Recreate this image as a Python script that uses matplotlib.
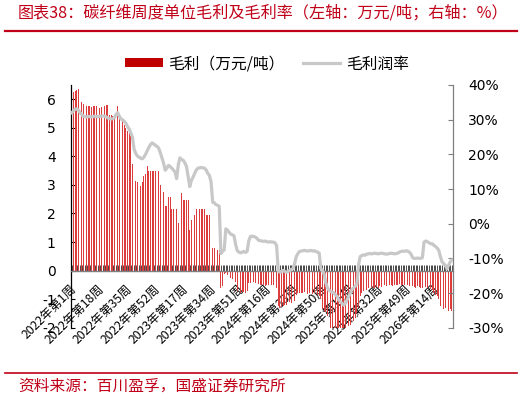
import matplotlib
matplotlib.use("Agg")
import matplotlib.pyplot as plt
from matplotlib.patches import Patch
from matplotlib.lines import Line2D
from matplotlib.transforms import ScaledTranslation

plt.rcParams['font.family'] = ['DejaVu Sans', 'Noto Sans CJK SC']
CJK = ['Noto Sans CJK SC', 'DejaVu Sans']

# ---------------- data ----------------
years = [2022, 2023, 2024, 2025, 2026]
weeks_in_year = [52, 52, 52, 52, 25]
categories = [f"{y}年第{w}周" for y, n in zip(years, weeks_in_year) for w in range(1, n + 1)]
label_step = 17

# 毛利（万元/吨）
gross_profit = [
    6.25, 6.25, 6.28, 6.33, 6.35, 6.33, 5.90, 5.85, 5.80, 5.78,
    5.75, 5.75, 5.72, 5.75, 5.75, 5.75, 5.70, 5.70, 5.72, 5.75,
    5.75, 5.80, 5.80, 5.44, 5.44, 5.42, 5.44, 5.75, 5.75, 5.44,
    5.44, 5.26, 5.10, 5.00, 4.90, 4.85, 4.70, 3.75, 3.20, 3.15,
    3.10, 3.00, 2.95, 3.10, 3.30, 3.40, 3.65, 3.50, 3.50, 3.50,
    3.50, 3.50, 3.50, 3.50, 3.00, 2.78, 2.76, 2.26, 2.25, 2.58,
    2.58, 2.14, 2.14, 2.14, 2.14, 1.67, 2.73, 2.73, 2.47, 2.47,
    2.47, 2.47, 1.42, 1.77, 1.94, 1.94, 2.14, 2.14, 2.14, 2.14,
    2.14, 2.14, 1.94, 1.94, 1.94, 0.78, 0.78, 0.78, 0.78, 0.72,
    0.72,
    -0.60, -0.55,
    -0.12, -0.10, -0.15, -0.20,
    -0.25, -0.30, -0.35, -0.40,
    -0.72, -0.78, -0.80, -0.76, -0.75, -0.78, -0.70,
    -0.45, -0.42, -0.45, -0.40, -0.42, -0.45,
    -0.48, -0.50, -0.52, -0.50, -0.55, -0.50, -0.52, -0.55, -0.50, -0.52, -0.55, -0.60,
    -1.25, -1.30, -1.28, -1.25, -1.20, -1.22, -1.15, -1.10, -1.12, -1.10, -1.05,
    -0.85, -0.80, -0.78, -0.80, -0.78, -0.76, -0.80, -0.82, -0.78, -0.80, -0.82, -0.80,
    -0.78, -0.85, -0.90, -1.00,
    -1.35, -1.40, -1.45, -1.60,
    -1.95, -2.00, -2.00, -2.02, -2.05, -2.00, -2.05, -2.08, -2.05, -2.00, -2.02, -1.98,
    -1.95, -1.90, -1.85,
    -1.75, -1.65, -1.50, -1.30,
    -0.90, -0.80, -0.72, -0.70, -0.68,
    -0.62, -0.60, -0.58, -0.60, -0.62, -0.58, -0.60, -0.55, -0.58, -0.55,
    -0.52, -0.55, -0.52, -0.50, -0.52, -0.55, -0.50, -0.52, -0.50, -0.48,
    -0.50, -0.52, -0.50, -0.48, -0.52, -0.55, -0.58, -0.55, -0.58, -0.60,
    -0.55, -0.58, -0.60, -0.62, -0.55, -0.58, -0.60, -0.62, -0.65, -0.68,
    -0.80, -0.85, -0.90, -1.00,
    -1.25, -1.30, -1.35, -1.30, -1.38, -1.40, -1.35, -1.40,
]

# 毛利润率（%）
margin_rate = [
    32.0, 32.5, 33.0, 33.1, 32.8, 32.0, 31.5, 31.0, 30.9, 30.8,
    30.9, 30.9, 30.8, 30.9, 31.0, 30.9, 30.8, 31.0, 31.0, 31.1,
    31.0, 30.8, 30.5, 30.3, 30.2, 30.3, 30.6, 31.5, 32.0, 31.0,
    30.2, 30.0, 29.5, 29.0, 28.0, 27.3, 26.2, 25.0, 21.5, 20.3,
    19.5, 19.2, 18.9, 18.7, 19.2, 20.0, 21.0, 22.0, 22.8, 23.3,
    23.0, 22.6, 22.3, 21.8, 20.5, 19.0, 17.5, 15.4, 16.0, 16.8,
    16.5, 16.0, 15.5, 14.9, 13.0, 17.0, 19.0, 18.5, 18.3, 17.5,
    16.5, 13.5, 10.7, 12.5, 13.4, 14.5, 15.5, 16.0, 16.1, 16.2,
    16.1, 16.0, 15.5, 14.5, 13.9, 12.0, 6.2, 6.0, 5.5, 5.3,
    5.0,
    -8.6, -8.0, -7.6, -1.5, -1.8, -2.5, -3.0, -3.2, -3.5, -6.0,
    -7.8, -8.2, -8.4, -8.2, -8.0, -8.3, -8.0,
    -5.0, -3.7, -3.6, -3.7, -3.9, -4.2,
    -4.8, -4.9, -5.0, -5.1, -5.0, -5.2, -5.3, -5.2, -5.3, -5.3, -5.5, -6.3,
    -13.5, -14.0, -13.8, -13.5, -13.8, -14.0, -13.8, -13.5, -13.2, -13.0,
    -11.5, -9.5, -8.6,
    -8.0, -7.9, -7.8, -7.7, -7.8, -7.9, -7.8, -7.7, -7.9, -7.8, -8.0, -8.2,
    -8.5, -13.0, -13.5, -14.5, -17.0, -18.5, -19.2, -19.5, -19.7, -20.0,
    -20.5, -21.0, -22.0, -22.5, -23.0, -23.5, -23.0, -22.0, -21.0, -20.0,
    -19.0, -18.5, -18.0, -17.5, -12.0, -9.5, -9.2, -9.0, -9.1,
    -8.8, -8.7, -8.6, -8.7, -8.6, -8.5, -8.6, -8.7, -8.6, -8.5,
    -8.6, -8.7, -8.8, -8.7, -8.6, -8.5, -8.6, -8.7, -8.6, -8.5,
    -8.2, -8.0, -7.9, -8.0, -7.8, -7.9, -8.2,
    -8.7, -9.8, -10.0, -10.0, -9.9, -10.0, -10.0, -9.8,
    -5.3, -5.0, -5.2, -5.5, -5.8, -5.8, -6.2, -6.6, -7.0, -7.7,
    -9.5, -11.0, -11.5, -12.0, -13.0, -12.0, -11.0, -10.5,
]

left_ticks = [-2, -1, 0, 1, 2, 3, 4, 5, 6]
right_ticks = [-30, -20, -10, 0, 10, 20, 30, 40]

assert len(categories) == len(gross_profit) == len(margin_rate), (
    len(categories), len(gross_profit), len(margin_rate))

# ---------------- figure ----------------
W, H = 526, 398
fig = plt.figure(figsize=(W / 100, H / 100), dpi=100)
ax = fig.add_axes([71 / W, 1 - 327.7 / H, (452.7 - 71) / W, (327.7 - 85) / H])
ax2 = ax.twinx()

n = len(categories)
xs = list(range(n))
bar_red = '#c00000'
ax.bar(xs, gross_profit, width=0.5, color='#dd3c3c', linewidth=0, zorder=2)
ax2.plot(xs, margin_rate, color='#c8c8c8', lw=2.3, solid_joinstyle='round', zorder=3)

ax.set_xlim(-0.5, n - 0.5)
ax.set_ylim(-2, 6.5)
ax2.set_ylim(-30, 40)
ax.set_yticks(left_ticks)
ax.set_yticklabels([str(v) for v in left_ticks])
ax2.set_yticks(right_ticks)
ax2.set_yticklabels([f"{v}%" for v in right_ticks])

# x axis at zero
ax.spines['bottom'].set_position(('data', 0))
ax.spines['bottom'].set_color('#808080')
ax.spines['bottom'].set_linewidth(1.0)
ax.spines['bottom'].set_zorder(4)
ax.set_xticks(xs)
ax.set_xticklabels([c if i % label_step == 0 else '' for i, c in enumerate(categories)],
                   rotation=45, ha='right', va='center', rotation_mode='anchor',
                   fontsize=8.8, family=CJK)
ax.tick_params(axis='x', direction='in', length=4, width=0.5, color='black', pad=11.5)
shift = ScaledTranslation(2.0 / 72, 0, fig.dpi_scale_trans)
for lab in ax.get_xticklabels():
    lab.set_transform(lab.get_transform() + shift)

for s in ['top', 'right']:
    ax.spines[s].set_visible(False)
ax.spines['left'].set_color('black')
ax.spines['left'].set_linewidth(0.9)
ax.tick_params(axis='y', direction='in', length=3, width=0.8, pad=11, labelsize=10)

for s in ['top', 'left', 'bottom']:
    ax2.spines[s].set_visible(False)
ax2.spines['right'].set_color('#7f7f7f')
ax2.spines['right'].set_linewidth(0.9)
ax2.tick_params(axis='y', direction='in', length=3.5, width=0.8, color='#7f7f7f', pad=11, labelsize=10)

ax.set_zorder(1)
ax2.set_zorder(2)
ax.patch.set_visible(False)
ax2.patch.set_visible(False)

# legend
handles = [Patch(facecolor=bar_red, edgecolor='none', label='毛利（万元/吨）'),
           Line2D([0], [0], color='#c8c8c8', lw=2.3, label='毛利润率')]
fig.legend(handles=handles, loc='center', bbox_to_anchor=(267 / W, 1 - 64 / H), ncol=2,
           frameon=False, prop={'family': CJK, 'size': 11.3}, handlelength=2.4,
           handleheight=0.5, handletextpad=0.35, columnspacing=1.15)

# title & source
red = '#c00018'
fig.text(18 / W, 1 - 13 / H, '图表38：碳纤维周度单位毛利及毛利率（左轴：万元/吨；右轴：%）',
         color=red, fontsize=11.6, family=CJK, ha='left', va='center', style='italic')
fig.add_artist(Line2D([5 / W, 517 / W], [1 - 30.7 / H, 1 - 30.7 / H], color=red, lw=1.6))
fig.add_artist(Line2D([5 / W, 517 / W], [1 - 373 / H, 1 - 373 / H], color=red, lw=1.2))
fig.text(18 / W, 1 - 386 / H, '资料来源：百川盈孚，国盛证券研究所',
         color=red, fontsize=11.3, family=CJK, ha='left', va='center', style='italic')

fig.savefig('out.png', dpi=100)
